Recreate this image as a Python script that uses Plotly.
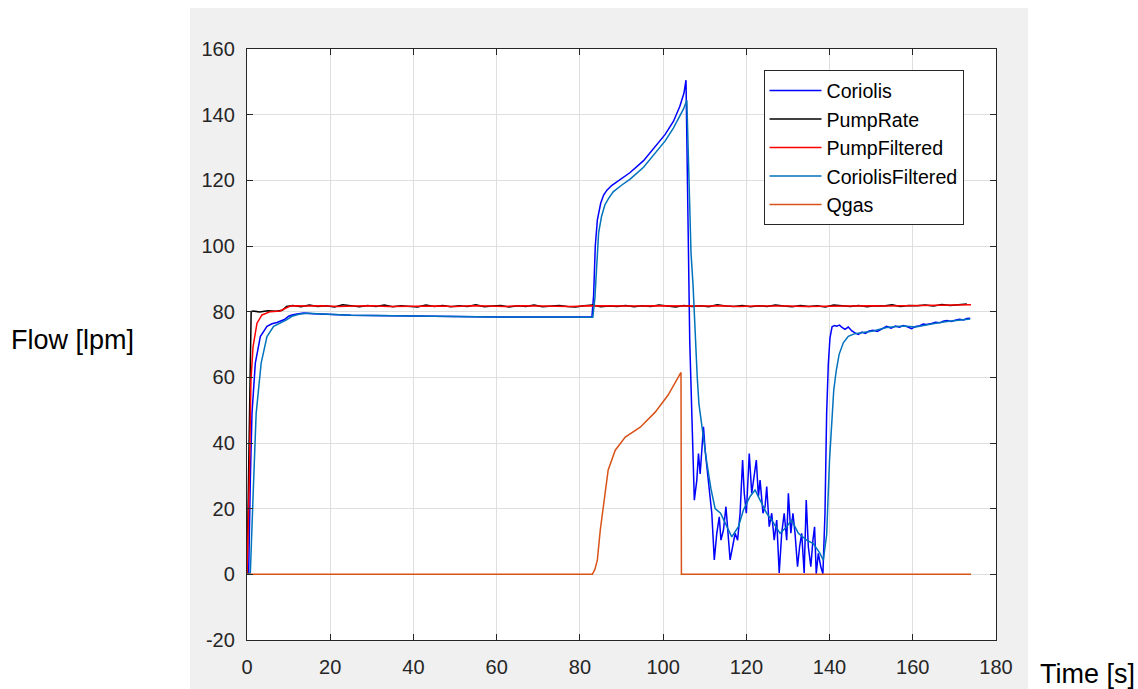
import plotly.graph_objects as go

# ---------------- data ----------------
pump_t = [0, 1.0, 1.5, 3, 5, 7, 8.5, 9.5] + list(range(11, 174, 2))
pump_v = [0, 80.0, 80.2, 79.9, 80.3, 80.1, 80.4, 81.6,
          81.9, 81.5, 82.0, 81.6, 81.8, 81.4, 82.1, 81.7, 81.5, 81.9,
          81.6, 82.0, 81.5, 81.8, 81.7, 81.4, 82.0, 81.6, 81.9, 81.5,
          81.8, 81.6, 82.1, 81.5, 81.7, 81.9, 81.4, 81.8, 81.6, 82.0,
          81.5, 81.7, 81.9, 81.6, 81.4, 81.8, 82.0, 81.5, 81.7, 81.6,
          81.9, 81.5, 81.8, 81.6, 82.0, 81.7, 81.4, 81.9, 81.6, 81.8,
          81.5, 82.1, 81.7, 81.6, 81.9, 81.5, 81.8, 81.6, 82.0, 81.7,
          81.5, 81.9, 81.6, 81.8, 81.4, 82.0, 81.7, 81.6, 81.9, 81.5,
          81.8, 81.7, 82.1, 81.6, 81.9, 81.8, 82.0, 81.7, 82.2, 81.9,
          82.1, 82.3]

pumpf_t = [0, 0.3, 0.55, 0.95, 1.45, 2.4, 3.6, 5.6, 8, 9, 10.4, 12] + list(range(14, 175, 4))
pumpf_v = [0, 12, 28.7, 59, 69.3, 76.5, 79, 80, 80.2, 80.9, 81.7, 81.8,
           81.7, 81.8, 81.6, 81.7, 81.8, 81.6, 81.7, 81.8, 81.7, 81.6,
           81.8, 81.7, 81.6, 81.8, 81.7, 81.7, 81.6, 81.8, 81.7, 81.6,
           81.7, 81.8, 81.7, 81.6, 81.7, 81.8, 81.6, 81.7, 81.8, 81.7,
           81.6, 81.7, 81.8, 81.7, 81.8, 81.7, 81.8, 81.9, 81.9, 82.0,
           82.1]

cor_t = [0, 0.4, 0.8, 1.2, 2.0, 3.2, 4.8, 6.0, 7.2, 8.0, 9.0, 10.0, 10.8, 12, 13.6,
         16, 20, 25, 30, 35, 40, 45, 50, 55, 60, 65, 70, 75, 80, 82.9,
         83.3, 83.7, 84.2, 85, 85.7, 86.5, 87.7, 90, 92, 95.3, 98.5, 100.5, 102.5,
         104, 105, 105.5, 106.4, 107.3, 107.5,
         108.1, 108.5, 108.9, 109.3, 109.7, 110.1, 110.5, 111.1, 111.7, 112.3,
         112.9, 113.5, 113.9, 114.5, 115.1, 115.6, 116.1, 116.7, 117.3, 117.9,
         118.5, 119.1, 119.5, 120.0, 120.3, 120.7, 121.3, 121.9, 122.4, 122.9,
         123.3, 124.0, 124.5, 124.9, 125.5, 126.1, 126.7, 127.3, 127.9, 128.5,
         129.1, 129.7, 130.1, 130.7, 131.2, 131.7, 132.3, 132.8, 133.3, 133.9,
         134.4, 134.9, 135.5, 136.0, 136.4, 136.8, 137.3, 137.9, 138.4, 138.9,
         139.3, 139.7, 140.1, 140.6, 141.2, 141.7, 142.4, 143.0, 143.7, 144.5,
         145.3, 146.0, 146.9, 147.8, 148.6, 149.5, 150.5, 151.5, 152.5, 153.7,
         154.8, 155.8, 156.8, 157.7, 158.7, 159.7, 160.7, 161.7, 162.5, 163.3,
         164.5, 165.5, 166.5, 167.3, 168.2, 169.2, 170.2, 171.2, 172.2, 173.0, 173.8]
cor_v = [0, 0.5, 28.7, 49, 64.3, 72.4, 75.5, 76.3, 76.7, 77, 77.6, 78.6, 79, 79.3, 79.6,
         79.4, 79.1, 78.9, 78.8, 78.7, 78.6, 78.6, 78.5, 78.5, 78.4, 78.4, 78.4, 78.3, 78.3, 78.4,
         85, 100, 108, 113, 115.5, 117, 118.5, 120.5, 122.3, 126, 131, 134, 138,
         142.5, 146.5, 150.5, 71, 32.8, 22.6,
         28.7, 36.8, 30.6, 38.8, 44.9, 37.8, 33, 26.7, 18.6, 4.4,
         12.5, 17.5, 10.4, 13.5, 20.6, 12.5, 4.4, 8.4, 12.5, 10.4,
         18.6, 34.8, 24.7, 18.6, 28.7, 36.8, 24.7, 30.6, 34.8, 23.7,
         28.7, 18.6, 20.6, 26.7, 14.5, 18.6, 10.4, 16.5, 0.4, 12.5,
         18.6, 10.4, 24.7, 12.5, 18.6, 12.5, 2.3, 8.4, 12.5, 0.4,
         22.6, 8.4, 2.3, 10.4, 14.5, 0.2, 6.4, 2.3, 0.2, 18.6,
         49, 64, 72, 75.4, 75.8, 75.6, 75.9, 75.2, 74.6, 75.3,
         74.2, 73.6, 73.1, 73.8, 73.4, 74.1, 74.3, 74.0, 74.8, 75.5,
         75.0, 75.6, 75.3, 75.8, 75.4, 74.8, 75.5, 75.7, 76.2, 76.1,
         76.4, 76.8, 76.6, 77.1, 77.3, 77.0, 77.4, 77.7, 77.5, 77.9, 78.0]

corf_t = [0, 0.8, 1.6, 2.2, 3.4, 4.8, 6.4, 8.4, 9.5, 10.8, 12.5, 14.4,
          16, 20, 25, 30, 35, 40, 45, 50, 55, 60, 65, 70, 75, 80, 83.1,
          83.6, 84.0, 84.5, 85.2, 86, 86.9, 88, 90, 92, 95.3, 98.5, 100.5, 102.5,
          104, 105, 105.7, 106.2, 106.7, 107.2, 107.7, 108.2, 108.6, 109.3,
          110.5, 111.5, 112.5, 113.8, 115.3, 116.5, 118.1, 119.3, 120.9, 122.1,
          123.3, 124.9, 126.1, 128.1, 129.7, 130.9, 132.5, 134.5, 136.1, 137.7,
          138.5, 139.3, 140.0, 140.5, 141.0, 141.6, 142.3, 143.3, 144.5, 146.1,
          147.8, 150.5, 153.7, 157.7, 160.7, 163.3, 165.5, 168.2, 171.2, 173.8]
corf_v = [0, 0.5, 28.7, 49, 64.3, 72.4, 75.5, 76.7, 77.5, 78.6, 79.2, 79.5,
          79.4, 79.1, 78.9, 78.8, 78.7, 78.6, 78.6, 78.5, 78.5, 78.4, 78.4, 78.4, 78.3, 78.3, 78.3,
          84, 95, 104, 109, 112.5, 114.5, 116.5, 118.5, 120.3, 124, 129, 132, 136,
          139.8, 142, 144.4, 120, 98, 88, 71, 60, 52, 45,
          34, 26, 20, 18.6, 14.5, 11.4, 14.5, 19.6, 23.7, 25.7,
          22.6, 18.6, 16.5, 12.5, 14.5, 16.5, 12.5, 10.4, 9.4, 6.4,
          4.3, 12, 35, 47, 56, 62, 67, 70.5, 72.5, 73.3,
          73.6, 74.1, 75.2, 75.6, 75.3, 76.0, 76.5, 77.0, 77.4, 77.8]

qgas_t = [0, 83, 83.6, 84.2, 84.9, 85.8, 86.8, 88.5, 90.9, 94.5, 98.1, 101.2, 104.1, 104.3, 104.4, 174]
qgas_v = [0, 0, 1.5, 4.4, 13.5, 22.6, 31.8, 37.8, 41.8, 44.8, 49.4, 54.6, 61, 61.5, 0, 0]

x_ticks = [0, 20, 40, 60, 80, 100, 120, 140, 160, 180]
y_ticks = [-20, 0, 20, 40, 60, 80, 100, 120, 140, 160]

# ---------------- figure ----------------
FONT = "Arial, 'Liberation Sans', Helvetica, sans-serif"
LW = 1.5
fig = go.Figure()
fig.add_trace(go.Scatter(x=cor_t, y=cor_v, mode="lines", name="Coriolis",
                         line=dict(color="#0000ff", width=LW)))
fig.add_trace(go.Scatter(x=pump_t, y=pump_v, mode="lines", name="PumpRate",
                         line=dict(color="#000000", width=LW)))
fig.add_trace(go.Scatter(x=pumpf_t, y=pumpf_v, mode="lines", name="PumpFiltered",
                         line=dict(color="#ff0000", width=LW)))
fig.add_trace(go.Scatter(x=corf_t, y=corf_v, mode="lines", name="CoriolisFiltered",
                         line=dict(color="#0072bd", width=LW)))
fig.add_trace(go.Scatter(x=qgas_t, y=qgas_v, mode="lines", name="Qgas",
                         line=dict(color="#d95319", width=LW)))

axis_common = dict(
    showgrid=True, gridcolor="#dfdfdf", gridwidth=1,
    zeroline=False, showline=True, linecolor="#262626", linewidth=1.3,
    mirror="allticks", ticks="inside", ticklen=6, tickwidth=1, tickcolor="#262626",
    tickfont=dict(family=FONT, size=20, color="#262626"),
)

fig.update_layout(
    width=1138, height=689,
    margin=dict(l=247, r=142, t=49, b=49, pad=0),
    paper_bgcolor="#ffffff", plot_bgcolor="#ffffff",
    showlegend=True,
    legend=dict(x=0.6896, y=0.964, xanchor="left", yanchor="top",
                bgcolor="#ffffff", bordercolor="#262626", borderwidth=1,
                font=dict(family=FONT, size=19.6, color="#000000"),
                itemwidth=52, tracegroupgap=0),
    xaxis=dict(range=[0, 180], tickvals=x_ticks, ticktext=[str(v) for v in x_ticks],
               ticklabelstandoff=9, **axis_common),
    yaxis=dict(range=[-20, 160], tickvals=y_ticks, ticktext=[str(v) for v in y_ticks],
               ticklabelstandoff=7, **axis_common),
    shapes=[
        dict(type="rect", xref="paper", yref="paper", x0=-0.0761, x1=1.0427,
             y0=-0.12, y1=1.0694, fillcolor="#f0f0f0", line=dict(width=0), layer="below"),
        dict(type="rect", xref="paper", yref="paper", x0=0, x1=1, y0=0, y1=1,
             fillcolor="#ffffff", line=dict(width=0), layer="below"),
    ],
    annotations=[
        dict(text="Flow [lpm]", xref="paper", yref="paper", x=-0.3178, y=0.5076,
             xanchor="left", yanchor="middle", showarrow=False,
             font=dict(family=FONT, size=27, color="#000000")),
        dict(text="Time [s]", xref="paper", yref="paper", x=1.0561, y=-0.0575,
             xanchor="left", yanchor="middle", showarrow=False,
             font=dict(family=FONT, size=27, color="#000000")),
    ],
)

fig.write_html("out.html")
